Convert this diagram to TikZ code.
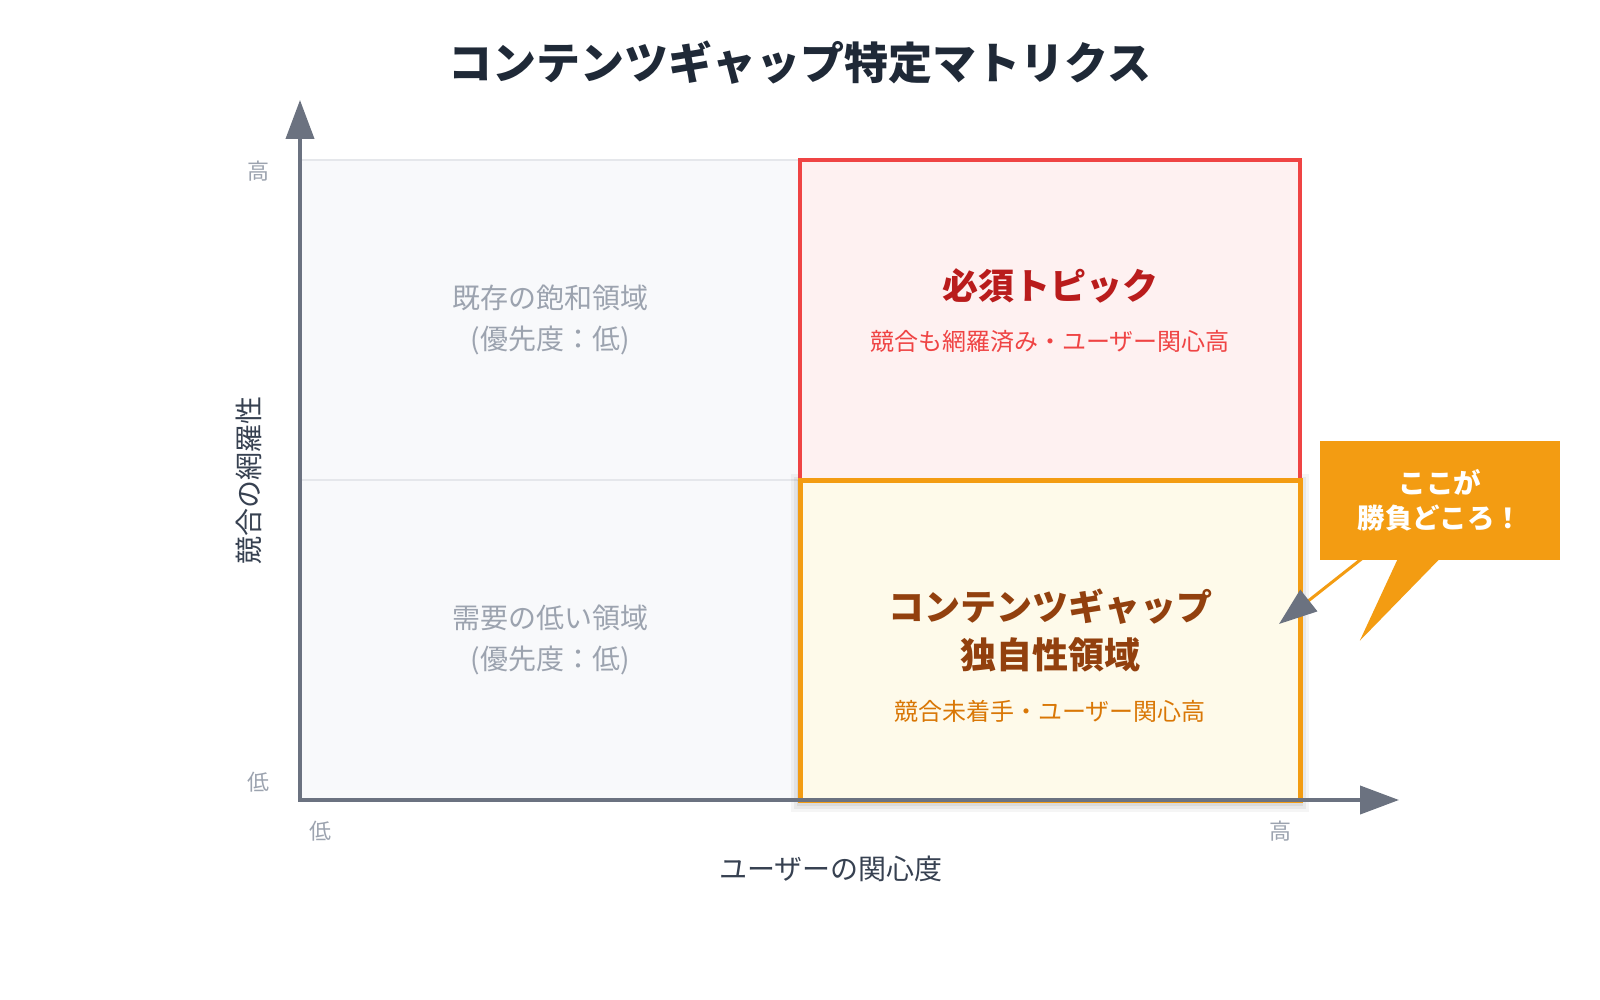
\documentclass[tikz,border=0pt]{standalone}
\usepackage{fontspec}
\setmainfont{Noto Sans CJK JP}
\usetikzlibrary{arrows.meta,calc}
\definecolor{titlec}{HTML}{1F2937}
\definecolor{axisc}{HTML}{6B7280}
\definecolor{tickc}{HTML}{9CA3AF}
\definecolor{labelc}{HTML}{374151}
\definecolor{quadfill}{HTML}{F8F9FB}
\definecolor{quadline}{HTML}{E5E7EB}
\definecolor{redline}{HTML}{EF4444}
\definecolor{redfill}{HTML}{FEF1F1}
\definecolor{redtitle}{HTML}{B91C1C}
\definecolor{orline}{HTML}{F39C12}
\definecolor{orfill}{HTML}{FEFAEA}
\definecolor{ortitle}{HTML}{92400E}
\definecolor{orsub}{HTML}{D97706}
\newcommand{\fs}[2]{\fontsize{#1pt}{#2pt}\selectfont}
\tikzset{
  quad/.style={minimum width=500pt,minimum height=320pt,inner sep=0pt,outer sep=0pt},
  graybox/.style={quad,fill=quadfill,draw=quadline,line width=2pt},
  redbox/.style={quad,fill=redfill,draw=redline,line width=4pt},
  orbox/.style={quad,fill=orfill,draw=orline,line width=5pt},
  graytxt/.style={text=tickc,align=center,font=\fs{28}{41}},
  ticktxt/.style={text=tickc,font=\fs{22}{26}},
  axistxt/.style={text=labelc,font=\fs{28}{32}},
  axisline/.style={draw=axisc,line width=4pt,line join=miter},
}
\begin{document}
\begin{tikzpicture}[x=1pt,y=-1pt]
\fill[white] (0,0) rectangle (1600,1000);
\useasboundingbox (0,0) rectangle (1600,1000);

% title
\node[text=titlec,font=\bfseries\fs{44}{50}] (title) at (800,63) {コンテンツギャップ特定マトリクス};

% left quadrants
\node[graybox] (tl) at (550,320) {};
\node[graybox] (bl) at (550,640) {};

% shadow of the orange box
\foreach \e/\o in {9/0.04,6/0.05,3/0.06}{
  \fill[black,opacity=\o] (800-\e,480-\e+3) rectangle (1300+\e,800+\e+3);
}
% right quadrants
\node[redbox] (tr) at (1050,320) {};
\node[orbox] (br) at (1050,640) {};

% quadrant texts
\node[graytxt] (tltxt) at (550,320) {既存の飽和領域\\(優先度：低)};
\node[graytxt] (bltxt) at (550,640) {需要の低い領域\\(優先度：低)};

\node[text=redtitle,font=\bfseries\fs{36}{40}] (trtitle) at (1050,286) {必須トピック};
\node[text=redline,font=\fs{24}{28}] (trsub) at (1050,341) {競合も網羅済み・ユーザー関心高};

\node[text=ortitle,font=\bfseries\fs{36}{48},align=center] (brtitle) at (1050,630) {コンテンツギャップ\\独自性領域};
\node[text=orsub,font=\fs{24}{28}] (brsub) at (1050,711) {競合未着手・ユーザー関心高};

% axes
\coordinate (origin) at (300,800);
\coordinate (ytip) at (300,100);
\coordinate (xtip) at (1399,800);
\draw[axisline,{Triangle[length=39pt,width=28pt]}-{Triangle[length=39pt,width=28pt]}] (ytip) -- (origin) -- (xtip);

% tick labels
\node[ticktxt] (yhigh) at (258,171) {高};
\node[ticktxt] (ylow) at (258,782) {低};
\node[ticktxt] (xlow) at (320,831) {低};
\node[ticktxt] (xhigh) at (1280,831) {高};

% axis labels
\node[axistxt] (xlabel) at (831,869) {ユーザーの関心度};
\node[axistxt,rotate=90] (ylabel) at (249,480) {競合の網羅性};

% callout
\node[fill=orline,minimum width=240pt,minimum height=119pt,inner sep=0pt,
      text=white,font=\bfseries\fs{27.5}{35},align=center] (call) at (1440,500) {ここが\\勝負どころ！};
\fill[orline] ($(call.south west)+(78,-1)$) -- ($(call.south west)+(120,-1)$) -- ($(call.south west)+(40,81)$) -- cycle;
\coordinate (ptrstart) at ($(call.south west)+(42,-1)$);
\coordinate (ptrend) at (1279,624);
\draw[orline,line width=3pt,-{Triangle[length=38pt,width=27pt,color=axisc,fill=axisc]}] (ptrstart) -- (ptrend);
\end{tikzpicture}
\end{document}
